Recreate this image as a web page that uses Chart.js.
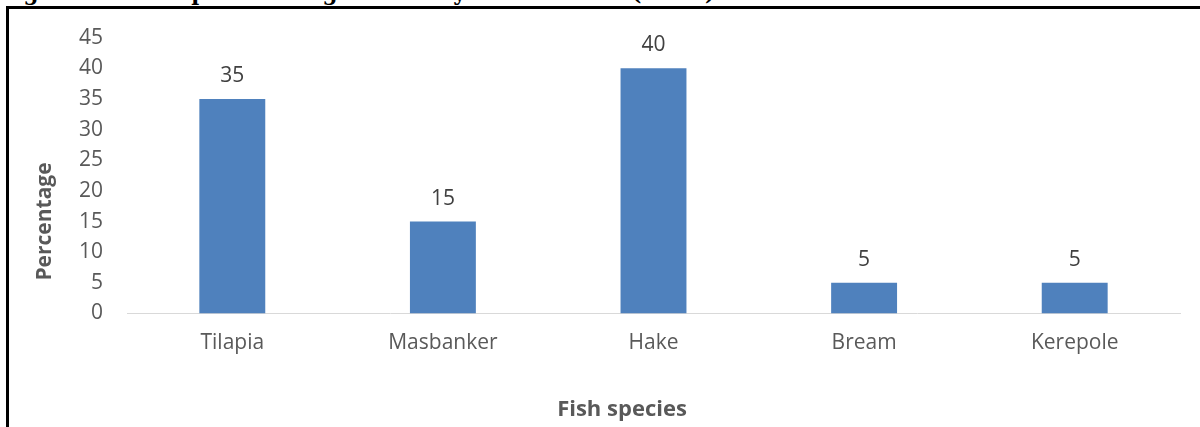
<!DOCTYPE html>
<html>
<head>
<meta charset="utf-8">
<script src="https://cdn.jsdelivr.net/npm/chart.js@4.4.1/dist/chart.umd.min.js"></script>
<style>
  html, body { margin: 0; padding: 0; background: #fff; overflow: hidden; width: 1200px; height: 427px; }
  #fig-title {
    position: absolute; left: 0; top: -18px; white-space: nowrap;
    font-family: "DejaVu Serif", serif; font-weight: bold; font-size: 21.5px; line-height: 22px; color: #000;
  }
  #frame {
    position: absolute; left: 6px; top: 6px; width: 1200px; height: 430px;
    border-left: 3px solid #000; border-top: 3px solid #000; background: #fff;
  }
  #chart { position: absolute; left: 0; top: -8px; }
</style>
</head>
<body>
<div id="fig-title">Figure 2: Fish Species Bought Most by Fish Traders (n=20)</div>
<div id="frame">
  <canvas id="chart" width="1191" height="426"></canvas>
</div>
<script>
var species = ['Tilapia', 'Masbanker', 'Hake', 'Bream', 'Kerepole'];
var percentages = [35, 15, 40, 5, 5];
var yTicks = [0, 5, 10, 15, 20, 25, 30, 35, 40, 45];

var tickFont = { family: 'Open Sans', size: 21 };

// value labels above each bar + both axis titles
var labelPlugin = {
  id: 'labelPlugin',
  afterDatasetsDraw: function(chart) {
    var ctx = chart.ctx;
    var area = chart.chartArea;
    ctx.save();
    ctx.fillStyle = '#404040';
    ctx.font = '21px "Open Sans"';
    ctx.textAlign = 'center';
    ctx.textBaseline = 'alphabetic';
    chart.getDatasetMeta(0).data.forEach(function(bar, i) {
      ctx.fillText(String(percentages[i]), bar.x, bar.y - 17);
    });

    ctx.fillStyle = '#595959';
    ctx.textBaseline = 'middle';
    ctx.font = 'bold 22px "Open Sans"';
    ctx.fillText('Fish species', 613, area.bottom + 96);

    ctx.font = 'bold 21px "Open Sans"';
    ctx.translate(36, area.bottom - 92);
    ctx.rotate(-Math.PI / 2);
    ctx.fillText('Percentage', 0, 0);
    ctx.restore();
  }
};

var ctx = document.getElementById('chart').getContext('2d');
var fishChart = new Chart(ctx, {
  type: 'bar',
  data: {
    labels: species,
    datasets: [{
      data: percentages,
      backgroundColor: '#4F81BD',
      categoryPercentage: 1,
      barPercentage: 0.313
    }]
  },
  options: {
    responsive: false,
    animation: false,
    layout: { padding: { top: 0, right: 20, left: 0, bottom: 0 } },
    plugins: {
      legend: { display: false },
      tooltip: { enabled: false }
    },
    scales: {
      x: {
        grid: { display: false, drawTicks: false },
        border: { display: true, color: '#D9D9D9', width: 1 },
        ticks: { color: '#595959', font: tickFont, padding: 17 },
        afterFit: function(scale) { scale.height = 113.5; }
      },
      y: {
        min: 0,
        max: 45,
        grid: { display: false, drawTicks: false },
        border: { display: false },
        afterBuildTicks: function(scale) {
          scale.ticks = yTicks.map(function(v) { return { value: v }; });
        },
        ticks: { color: '#595959', font: tickFont, padding: 24 },
        afterFit: function(scale) { scale.width = 118; }
      }
    }
  },
  plugins: [labelPlugin]
});
</script>
</body>
</html>
